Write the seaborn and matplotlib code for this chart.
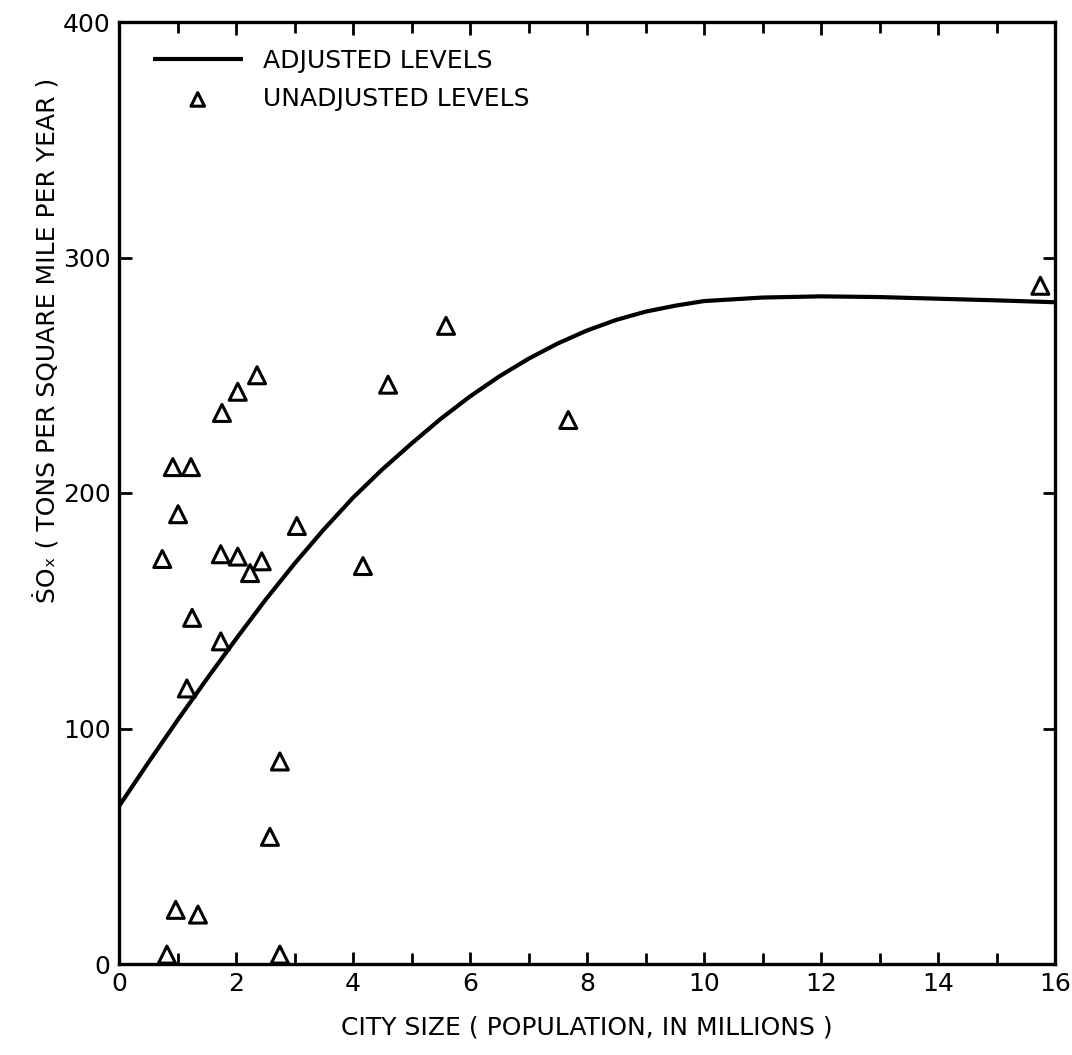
import matplotlib
matplotlib.use("Agg")
import matplotlib.pyplot as plt
import seaborn as sns
import pandas as pd
import numpy as np

# Unadjusted levels (scatter) – city size (millions) vs SOx
city_size = [2.36, 2.03, 1.76, 0.92, 1.23, 1.01, 3.04, 0.74, 1.74, 2.03,
             2.44, 2.24, 1.25, 1.74, 1.16, 0.82, 2.75, 2.75, 2.58, 0.97,
             1.35, 5.59, 4.60, 7.68, 4.17, 15.75]
sox_unadj = [250, 243, 234, 211, 211, 191, 186, 172, 174, 173,
             171, 166, 147, 137, 117, 4, 4, 86, 54, 23,
             21, 271, 246, 231, 169, 288]

# Adjusted levels (curve)
curve_x = [0, 0.5, 1, 1.5, 2, 2.5, 3, 3.5, 4, 4.5, 5, 5.5, 6, 6.5, 7, 7.5,
           8, 8.5, 9, 9.5, 10, 11, 12, 13, 14, 15, 16]
curve_y = [67, 85.5, 103.5, 121, 138, 154.5, 170, 184.5, 198, 210, 221,
           231.5, 241, 249.5, 257, 263.5, 269, 273.5, 277, 279.5, 281.5,
           283, 283.5, 283.2, 282.5, 281.8, 281]

x_ticks = [0, 2, 4, 6, 8, 10, 12, 14, 16]
x_ticklabels = ["0", "2", "4", "6", "8", "10", "12", "14", "16"]
y_ticks = [0, 100, 200, 300, 400]
y_ticklabels = ["0", "100", "200", "300", "400"]

sns.set_theme(style="white")
plt.rcParams["font.family"] = ["DejaVu Sans"]
plt.rcParams["text.color"] = "black"
plt.rcParams["axes.labelcolor"] = "black"
plt.rcParams["xtick.color"] = "black"
plt.rcParams["ytick.color"] = "black"

fig = plt.figure(figsize=(10.72, 10.55), dpi=100)
ax = fig.add_axes([119/1072, 1 - 964/1055, 936/1072, 942/1055])

df_curve = pd.DataFrame({"x": curve_x, "y": curve_y})
df_pts = pd.DataFrame({"x": city_size, "y": sox_unadj})

sns.lineplot(data=df_curve, x="x", y="y", ax=ax, color="black", linewidth=3.0,
             label="ADJUSTED LEVELS", sort=True, estimator=None,
             solid_joinstyle="round", solid_capstyle="butt")
sns.scatterplot(data=df_pts, x="x", y="y", ax=ax, marker="^", s=150,
                facecolor="none", edgecolor="black", linewidth=2.2,
                label="UNADJUSTED LEVELS", zorder=3)

ax.set_xlim(0, 16)
ax.set_ylim(0, 400)
ax.set_xticks(x_ticks)
ax.set_xticklabels(x_ticklabels)
ax.set_yticks(y_ticks)
ax.set_yticklabels(y_ticklabels)
ax.set_xticks(np.arange(0, 17, 1), minor=True)

ax.tick_params(axis="both", which="both", direction="in", color="black",
               labelcolor="black", top=True, right=True, bottom=True, left=True)
ax.tick_params(axis="both", which="major", length=9, width=2, labelsize=18,
               pad=6)
ax.tick_params(axis="x", which="minor", length=8, width=2)
for sp in ax.spines.values():
    sp.set_color("black")
    sp.set_linewidth(2.4)

ax.set_xlabel("CITY SIZE ( POPULATION, IN MILLIONS )", fontsize=18,
              labelpad=14, color="black")
ax.set_ylabel("ṠOₓ ( TONS PER SQUARE MILE PER YEAR )", fontsize=18,
              color="black")
ax.yaxis.set_label_coords(-0.062, 0.662)

leg = ax.legend(loc="upper left", bbox_to_anchor=(0.012, 0.995), frameon=False,
                fontsize=18, handlelength=3.6, handletextpad=0.8,
                labelspacing=0.55, markerscale=0.8)
for t in leg.get_texts():
    t.set_color("black")

fig.savefig("out.png", dpi=100, facecolor="white")
